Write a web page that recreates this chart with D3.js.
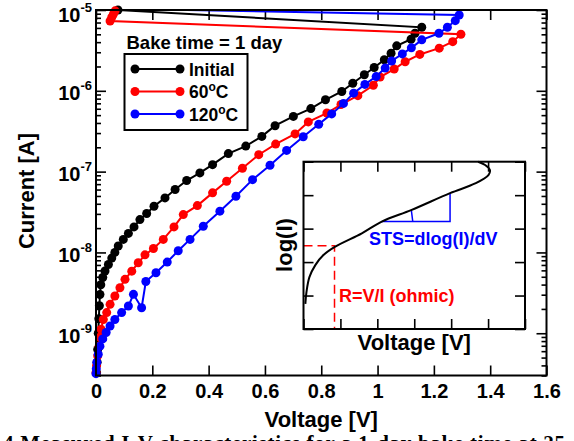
<!DOCTYPE html>
<html lang='en'>
<head>
<meta charset='UTF-8'>
<title>I-V after bake</title>
<style>
	body { margin: 0; background: #fff; }
	svg { display: block; }
</style>
</head>
<body>
<svg id='graph' width='574' height='441'></svg>
<script src='https://d3js.org/d3.v7.min.js'></script>
<script>
// values (V in volts, I in amps)
const initialV = [0.002, 0.004, 0.006, 0.008, 0.010, 0.012, 0.014, 0.017, 0.024, 0.032, 0.044, 0.056, 0.067, 0.079, 0.097, 0.115, 0.135, 0.156, 0.180, 0.206, 0.245, 0.281, 0.322, 0.369, 0.414, 0.470, 0.532, 0.589, 0.636, 0.701, 0.763, 0.815, 0.873, 0.912, 0.953, 0.988, 1.024, 1.048, 1.068, 1.119, 1.133, 1.157, 0.078]
const initialI = [3.24e-10, 4.37e-10, 6.31e-10, 1.0e-9, 1.51e-9, 2.19e-9, 3.02e-9, 3.98e-9, 4.90e-9, 5.89e-9, 7.08e-9, 8.51e-9, 1.0e-8, 1.20e-8, 1.45e-8, 1.72e-8, 2.07e-8, 2.55e-8, 3.03e-8, 3.73e-8, 4.73e-8, 6.0e-8, 7.76e-8, 9.64e-8, 1.22e-7, 1.67e-7, 2.07e-7, 2.73e-7, 3.70e-7, 4.82e-7, 6.03e-7, 7.74e-7, 9.82e-7, 1.24e-6, 1.58e-6, 1.94e-6, 2.42e-6, 2.92e-6, 3.60e-6, 4.35e-6, 5.15e-6, 6.11e-6, 1.0e-5]

const bake60V = [0, 0.002, 0.006, 0.011, 0.014, 0.018, 0.026, 0.038, 0.050, 0.067, 0.085, 0.103, 0.127, 0.150, 0.174, 0.204, 0.239, 0.277, 0.310, 0.360, 0.414, 0.464, 0.520, 0.578, 0.638, 0.707, 0.754, 0.820, 0.870, 0.930, 0.985, 1.009, 1.059, 1.098, 1.150, 1.219, 1.267, 1.296, 0.050, 0.056, 0.062, 0.068]
const bake60I = [3.24e-10, 3.98e-10, 5.25e-10, 6.92e-10, 8.91e-10, 1.12e-9, 1.48e-9, 1.80e-9, 2.28e-9, 2.89e-9, 3.66e-9, 4.65e-9, 5.87e-9, 7.45e-9, 9.33e-9, 1.12e-8, 1.45e-8, 2.07e-8, 2.94e-8, 3.80e-8, 5.46e-8, 7.60e-8, 1.10e-7, 1.62e-7, 2.19e-7, 2.93e-7, 4.12e-7, 5.31e-7, 6.76e-7, 8.71e-7, 1.17e-6, 1.48e-6, 1.86e-6, 2.29e-6, 2.82e-6, 3.37e-6, 4.06e-6, 5.01e-6, 7.31e-6, 8.13e-6, 8.91e-6, 9.77e-6]

const bake120V = [0, 0.001, 0.003, 0.008, 0.014, 0.024, 0.036, 0.050, 0.067, 0.091, 0.115, 0.133, 0.162, 0.177, 0.213, 0.253, 0.292, 0.334, 0.381, 0.440, 0.497, 0.556, 0.618, 0.677, 0.736, 0.791, 0.837, 0.879, 0.915, 0.955, 0.995, 1.027, 1.050, 1.088, 1.120, 1.157, 1.218, 1.248, 1.276, 1.290, 0.050]
const bake120I = [3.16e-10, 3.63e-10, 4.37e-10, 5.50e-10, 6.92e-10, 8.51e-10, 1.02e-9, 1.23e-9, 1.48e-9, 1.80e-9, 2.17e-9, 3.03e-9, 2.07e-9, 4.37e-9, 5.6e-9, 7.6e-9, 1.05e-8, 1.45e-8, 2.11e-8, 3.24e-8, 4.95e-8, 7.96e-8, 1.20e-7, 1.83e-7, 2.70e-7, 3.85e-7, 5.18e-7, 6.98e-7, 9.35e-7, 1.20e-6, 1.50e-6, 1.91e-6, 2.34e-6, 2.86e-6, 3.40e-6, 4.27e-6, 5.15e-6, 6.11e-6, 7.38e-6, 8.67e-6, 1.04e-5]

const seriesNames = ['Initial', '60', '120']
const seriesUnits = ['', 'C', 'C']
const seriesColors = ['#000000', '#ff0000', '#0000ff']

const xTicks = [0, 0.2, 0.4, 0.6, 0.8, 1, 1.2, 1.4, 1.6]
const yTicks = [1e-9, 1e-8, 1e-7, 1e-6, 1e-5]

// inset sketch, in arbitrary units (x 0..6, y 0..5)
const insetX = [0.05, 0.08, 0.16, 0.32, 0.54, 0.86, 1.58, 2.12, 2.93, 3.97, 4.65, 5.01, 5.05, 4.92, 4.73]
const insetY = [0.75, 1.10, 1.55, 1.91, 2.21, 2.46, 2.86, 3.21, 3.56, 4.06, 4.35, 4.60, 4.75, 4.90, 5.0]
const ohmicPoint = [0.84, 2.49]
const slopeTriangle = [[2.12, 3.21], [3.97, 3.21], [3.97, 4.06]]
const slopeMark = [[2.92, 3.56], [2.96, 3.21]]

const caption = '4 Measured I-V characteristics for a 1-day bake time at 25'

const font = "'Liberation Sans', Arial, Helvetica, sans-serif"
const pLeft = 96, pRight = 546.5, pTop = 10, pBottom = 375.5

const svg = d3.select('#graph')
	.attr('font-family', font)
	.attr('font-weight', 'bold')

const xScale = d3.scaleLinear().domain([0, 1.6]).range([pLeft, pRight])
const yScale = d3.scaleLog().domain([3e-10, 1e-5]).range([pBottom, pTop])
const yMinor = yScale.ticks().filter((t) => !yTicks.some((m) => Math.abs(m - t) / m < 1e-6))

svg.append('defs').append('clipPath').attr('id', 'plotClip')
	.append('rect')
	.attr('x', pLeft).attr('y', pTop)
	.attr('width', pRight - pLeft).attr('height', pBottom - pTop)

// axes (ticks point inward)
const styleAxis = (g) => {
	g.select('.domain').remove()
	g.selectAll('.tick line').attr('stroke-width', 1.6)
	g.attr('font-family', font).attr('font-weight', 'bold')
}

svg.append('g')
	.attr('transform', `translate(0, ${pBottom})`)
	.call(d3.axisBottom(xScale).tickValues(xTicks).tickSizeInner(-10).tickSizeOuter(0).tickPadding(8).tickFormat(d3.format('~g')))
	.call(styleAxis)
	.attr('font-size', 20)

svg.append('g')
	.attr('transform', `translate(0, ${pTop})`)
	.call(d3.axisTop(xScale).tickValues(xTicks).tickSizeInner(-10).tickSizeOuter(0).tickFormat(''))
	.call(styleAxis)

const yAxisG = svg.append('g')
	.attr('transform', `translate(${pLeft}, 0)`)
	.call(d3.axisLeft(yScale).tickValues(yTicks).tickSizeInner(-10).tickSizeOuter(0).tickPadding(4).tickFormat(''))
	.call(styleAxis)
	.attr('font-size', 20)

yAxisG.selectAll('.tick text')
	.attr('dy', (d) => d === 1e-5 ? 11 : 9)
	.each(function (d) {
		const t = d3.select(this)
		t.append('tspan').text('10')
		t.append('tspan').attr('font-size', 13).attr('dy', -10).text(Math.round(Math.log10(d)))
	})

svg.append('g')
	.attr('transform', `translate(${pLeft}, 0)`)
	.call(d3.axisLeft(yScale).tickValues(yMinor).tickSizeInner(-5).tickSizeOuter(0).tickFormat(''))
	.call(styleAxis)

svg.append('g')
	.attr('transform', `translate(${pRight}, 0)`)
	.call(d3.axisRight(yScale).tickValues(yTicks).tickSizeInner(-10).tickSizeOuter(0).tickFormat(''))
	.call(styleAxis)

svg.append('g')
	.attr('transform', `translate(${pRight}, 0)`)
	.call(d3.axisRight(yScale).tickValues(yMinor).tickSizeInner(-5).tickSizeOuter(0).tickFormat(''))
	.call(styleAxis)

svg.append('text')
	.attr('x', (pLeft + pRight) / 2)
	.attr('y', 427)
	.attr('text-anchor', 'middle')
	.attr('font-size', 22)
	.text('Voltage [V]')

svg.append('text')
	.attr('transform', `translate(34, 191) rotate(-90)`)
	.attr('text-anchor', 'middle')
	.attr('font-size', 22)
	.text('Current [A]')

// data
const series = seriesNames.map((name, k) => ({
	name: name,
	color: seriesColors[k],
	points: d3.zip([initialV, bake60V, bake120V][k], [initialI, bake60I, bake120I][k])
}))

const line = d3.line()
	.x((d) => xScale(d[0]))
	.y((d) => yScale(d[1]))

series.forEach((s) => {
	svg.append('path')
		.datum(s.points)
		.attr('clip-path', 'url(#plotClip)')
		.attr('fill', 'none')
		.attr('stroke', s.color)
		.attr('stroke-width', 2)
		.attr('d', line)

	svg.append('g')
		.selectAll('circle')
		.data(s.points.filter((d) => d[1] <= 1.001e-5))
		.enter()
		.append('circle')
		.attr('cx', (d) => xScale(d[0]))
		.attr('cy', (d) => yScale(d[1]))
		.attr('r', 4.5)
		.attr('fill', s.color)
})

// frame
svg.append('rect')
	.attr('x', pLeft).attr('y', pTop)
	.attr('width', pRight - pLeft).attr('height', pBottom - pTop)
	.attr('fill', 'none')
	.attr('stroke', '#000')
	.attr('stroke-width', 2)

// legend
svg.append('text')
	.attr('x', 126.5)
	.attr('y', 49)
	.attr('font-size', 18.5)
	.text('Bake time = 1 day')

svg.append('rect')
	.attr('x', 124.5).attr('y', 54)
	.attr('width', 123).attr('height', 76)
	.attr('fill', '#fff')
	.attr('stroke', '#000')
	.attr('stroke-width', 2)

const legendRows = [69, 91.5, 114]
series.forEach((s, k) => {
	const g = svg.append('g').attr('transform', `translate(0, ${legendRows[k]})`)
	g.append('line').attr('x1', 135).attr('x2', 180).attr('stroke', s.color).attr('stroke-width', 2)
	g.selectAll('circle').data([135, 180]).enter().append('circle')
		.attr('cx', (d) => d).attr('r', 4.5).attr('fill', s.color)
	const t = g.append('text').attr('x', 189).attr('y', 6.5).attr('font-size', 17.5)
	t.append('tspan').text(s.name)
	if (seriesUnits[k]) {
		t.append('tspan').attr('font-size', 12).attr('dy', -7).text('o')
		t.append('tspan').attr('dy', 7).text(seriesUnits[k])
	}
})

// inset
const ix = d3.scaleLinear().domain([0, 6]).range([303.5, 525])
const iy = d3.scaleLinear().domain([0, 5]).range([329, 161.7])

const inset = svg.append('g')
inset.append('rect')
	.attr('x', ix(0)).attr('y', iy(5))
	.attr('width', ix(6) - ix(0)).attr('height', iy(0) - iy(5))
	.attr('fill', '#fff')

const styleInset = (g) => {
	g.select('.domain').remove()
	g.selectAll('.tick line').attr('stroke-width', 1.6)
}
inset.append('g').attr('transform', `translate(0, ${iy(0)})`)
	.call(d3.axisBottom(ix).ticks(6).tickSizeInner(-10).tickSizeOuter(0).tickFormat('')).call(styleInset)
inset.append('g').attr('transform', `translate(0, ${iy(5)})`)
	.call(d3.axisTop(ix).ticks(6).tickSizeInner(-10).tickSizeOuter(0).tickFormat('')).call(styleInset)
inset.append('g').attr('transform', `translate(${ix(0)}, 0)`)
	.call(d3.axisLeft(iy).ticks(5).tickSizeInner(-10).tickSizeOuter(0).tickFormat('')).call(styleInset)
inset.append('g').attr('transform', `translate(${ix(6)}, 0)`)
	.call(d3.axisRight(iy).ticks(5).tickSizeInner(-10).tickSizeOuter(0).tickFormat('')).call(styleInset)

const insetLine = d3.line()
	.x((d) => ix(d[0]))
	.y((d) => iy(d[1]))

inset.append('path')
	.datum([[0, ohmicPoint[1]], ohmicPoint, [ohmicPoint[0], 0]])
	.attr('fill', 'none')
	.attr('stroke', '#ff0000')
	.attr('stroke-width', 1.5)
	.attr('stroke-dasharray', '9,5')
	.attr('d', insetLine)

inset.append('path')
	.datum(slopeTriangle)
	.attr('fill', 'none')
	.attr('stroke', '#0000ff')
	.attr('stroke-width', 1.5)
	.attr('d', insetLine)

inset.append('path')
	.datum(slopeMark)
	.attr('fill', 'none')
	.attr('stroke', '#0000ff')
	.attr('stroke-width', 1.5)
	.attr('d', insetLine)

inset.append('path')
	.datum(d3.zip(insetX, insetY))
	.attr('fill', 'none')
	.attr('stroke', '#000')
	.attr('stroke-width', 2)
	.attr('d', insetLine.curve(d3.curveCatmullRom))

inset.append('rect')
	.attr('x', ix(0)).attr('y', iy(5))
	.attr('width', ix(6) - ix(0)).attr('height', iy(0) - iy(5))
	.attr('fill', 'none')
	.attr('stroke', '#000')
	.attr('stroke-width', 2)

inset.append('text')
	.attr('x', 369).attr('y', 245)
	.attr('font-size', 18)
	.attr('fill', '#0000ff')
	.text('STS=dlog(I)/dV')

inset.append('text')
	.attr('x', 339).attr('y', 302)
	.attr('font-size', 18)
	.attr('fill', '#ff0000')
	.text('R=V/I (ohmic)')

inset.append('text')
	.attr('x', (ix(0) + ix(6)) / 2)
	.attr('y', 350)
	.attr('text-anchor', 'middle')
	.attr('font-size', 22)
	.text('Voltage [V]')

inset.append('text')
	.attr('transform', `translate(292, 245) rotate(-90)`)
	.attr('text-anchor', 'middle')
	.attr('font-size', 22)
	.text('log(I)')

// figure caption, cut by the bottom edge as in the source
svg.append('text')
	.attr('x', 3)
	.attr('y', 450)
	.attr('font-family', "'Liberation Serif', 'Times New Roman', serif")
	.attr('font-size', 21)
	.attr('textLength', 562)
	.attr('lengthAdjust', 'spacing')
	.text(caption)
</script>
</body>
</html>
